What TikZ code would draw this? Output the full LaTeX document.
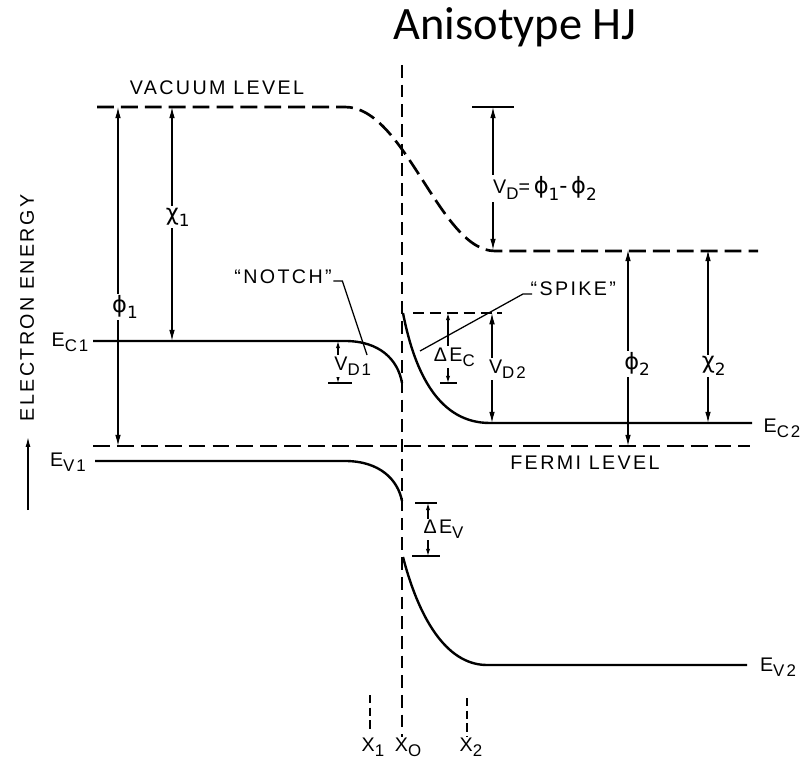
\documentclass[tikz,border=0pt]{standalone}
\usepackage{fontspec}
\setmainfont{Liberation Sans}
\newfontfamily\titlefont{Carlito}
\newfontfamily\letterfont[LetterSpace=12]{Liberation Sans}
\newfontfamily\greekfont{DejaVu Sans}
\usetikzlibrary{arrows.meta}
\tikzstyle{level} = [line width=1.7pt]
\tikzstyle{dashlevel} = [line width=1.9pt, dash pattern=on 12pt off 5pt]
\tikzstyle{marker} = [line width=1.1pt, dash pattern=on 6pt off 3pt]
\tikzstyle{dim} = [line width=0.8pt, <->, >={Latex[length=8pt,width=4pt]}]
\tikzstyle{dimsmall} = [line width=0.8pt, <->, >={Latex[length=5pt,width=3pt]}]
\tikzstyle{bar} = [line width=1pt]
\tikzstyle{leader} = [line width=0.9pt]
\tikzstyle{lbl} = [font=\letterfont\fontsize{14}{16}\selectfont, inner sep=1pt]
\tikzstyle{sym} = [font=\greekfont\fontsize{16}{18}\selectfont, fill=white, inner sep=1pt]
\newcommand{\lowsub}[1]{\raisebox{-0.5ex}{\fontsize{12}{14}\selectfont #1}}

\begin{document}
\begin{tikzpicture}[x=0.025cm, y=-0.025cm]
    \useasboundingbox (0,0) rectangle (811,762);

    \node (title) [anchor=base, font=\titlefont\fontsize{33}{36}\selectfont] at (515,40) {Anisotype HJ};

    % interface x0 and depletion edges
    \draw[dashlevel, dash pattern=on 9pt off 5pt, line width=1.5pt] (402,65) -- (402,737);
    \draw[marker] (370,695) -- (370,730);
    \draw[marker] (467,698) -- (467,737);
    \node (x1) [lbl] at (373,747) {X\lowsub{1}};
    \node (x0) [lbl] at (408,747) {X\lowsub{O}};
    \node (x2) [lbl] at (471,747) {X\lowsub{2}};

    % vacuum and fermi level
    \draw[dashlevel] (97,107) -- (345,107) .. controls (405,107) and (440,251) .. (495,251) -- (758,251);
    \draw[dashlevel] (93,446) -- (750,446);
    \draw[dashlevel, line width=1.4pt, dash pattern=on 8pt off 4pt] (413,313) -- (502,313);
    \node (vac) [lbl] at (217,88) {VACUUM LEVEL};
    \node (fermi) [lbl] at (585,463) {FERMI LEVEL};

    % bands
    \draw[level] (93,341) -- (345,341) .. controls (380,341) and (398,360) .. (402,383);
    \draw[level] (95,461) -- (345,461) .. controls (380,461) and (398,480) .. (402,501);
    \draw[level] (403,313) .. controls (415,375) and (440,423) .. (490,423) -- (752,423);
    \draw[level] (403,557) .. controls (418,615) and (445,665) .. (487,665) -- (747,665);
    \node (ec1) [lbl] at (70,342) {E\lowsub{C1}};
    \node (ev1) [lbl] at (68,462) {E\lowsub{V1}};
    \node (ec2) [lbl] at (782,428) {E\lowsub{C2}};
    \node (ev2) [lbl] at (778,667) {E\lowsub{V2}};

    % energy axis
    \node (energy) [lbl, rotate=90] at (27,308) {ELECTRON ENERGY};
    \coordinate (eaxbot) at (28,510);
    \coordinate (eaxtop) at (28,437);
    \draw[line width=0.9pt, -{Latex[length=7pt,width=3.5pt]}] (eaxbot) -- (eaxtop);

    % left side
    \coordinate (p1top) at (118,107);
    \coordinate (p1bot) at (118,446);
    \draw[dim] (p1top) -- node (phi1) [sym, pos=0.59, xshift=5pt] {ϕ\lowsub{1}} (p1bot);
    \coordinate (c1top) at (172,107);
    \coordinate (c1bot) at (172,341);
    \draw[dim] (c1top) -- node (chi1) [sym, pos=0.47, xshift=4pt] {χ\lowsub{1}} (c1bot);
    \coordinate (vd1top) at (338,341);
    \coordinate (vd1bot) at (338,383);
    \draw[bar] (328,383) -- (352,383);
    \draw[dimsmall] (vd1top) -- node (vd1) [lbl, fill=white, pos=0.6, xshift=10.5pt] {V\lowsub{D1}} (vd1bot);

    % right side
    \coordinate (vdtop) at (493,107);
    \coordinate (vdbot) at (493,250);
    \draw[bar] (472,107) -- (514,107);
    \draw[dim] (vdtop) -- node (vd) [sym, pos=0.57, xshift=37pt] {{\letterfont\fontsize{14}{16}\selectfont V\lowsub{D}=}\,ϕ\lowsub{1}-\,ϕ\lowsub{2}} (vdbot);
    \coordinate (dectop) at (448,313);
    \coordinate (decbot) at (448,383);
    \draw[bar] (440,383) -- (457,383);
    \draw[dimsmall] (dectop) -- node (dec) [lbl, fill=white, pos=0.63, xshift=4.5pt] {ΔE\lowsub{C}} (decbot);
    \coordinate (vd2top) at (492,313);
    \coordinate (vd2bot) at (492,423);
    \draw[dim] (vd2top) -- node (vd2) [lbl, fill=white, pos=0.51, xshift=11pt] {V\lowsub{D2}} (vd2bot);
    \coordinate (p2top) at (628,250);
    \coordinate (p2bot) at (628,446);
    \draw[dim] (p2top) -- node (phi2) [sym, pos=0.58, xshift=6.5pt] {ϕ\lowsub{2}} (p2bot);
    \coordinate (c2top) at (708,250);
    \coordinate (c2bot) at (708,423);
    \draw[dim] (c2top) -- node (chi2) [sym, pos=0.67, xshift=4pt] {χ\lowsub{2}} (c2bot);
    \coordinate (devtop) at (428,503);
    \coordinate (devbot) at (428,556);
    \draw[bar] (415,503) -- (437,503);
    \draw[bar] (412,556) -- (440,556);
    \draw[dimsmall] (devtop) -- node (dev) [lbl, fill=white, pos=0.5, xshift=11pt] {ΔE\lowsub{V}} (devbot);

    % notch and spike
    \node (notch) [lbl] at (283,277) {“NOTCH”};
    \coordinate (notchtip) at (367,355);
    \draw[leader] ([yshift=2pt]notch.base east) -- ++(9,0) -- (notchtip);
    \node (spike) [lbl, anchor=west] at (529,289) {“SPIKE”};
    \coordinate (spiketip) at (420,351);
    \coordinate (spikeknee) at (523,294);
    \draw[leader] (spiketip) -- (spikeknee) -- ++(9,0);
\end{tikzpicture}
\end{document}
